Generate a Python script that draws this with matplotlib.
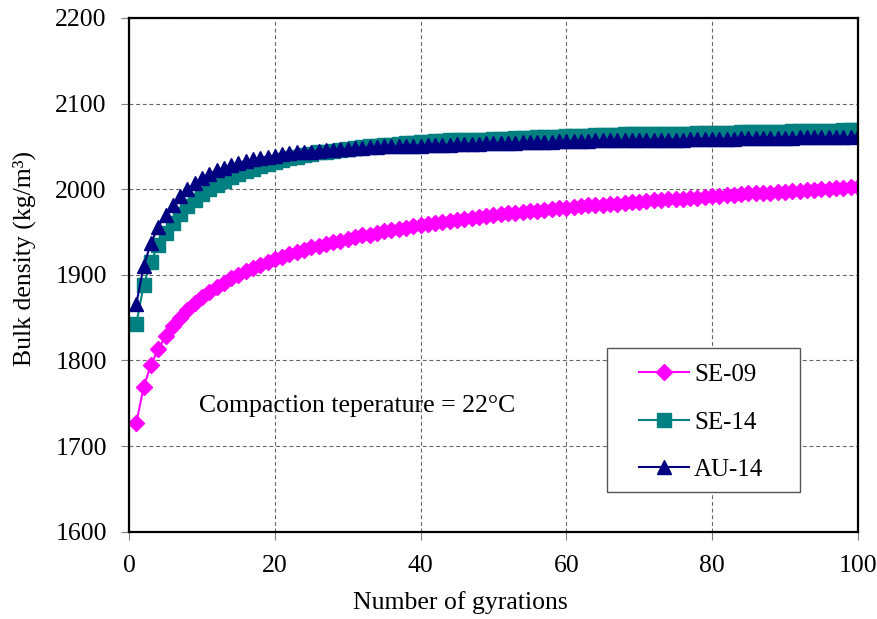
import numpy as np
import matplotlib.pyplot as plt
from matplotlib.patches import Rectangle

plt.rcParams['font.family'] = ['Liberation Serif', 'DejaVu Serif']

# gyration count 1..100
gyrations = np.arange(1, 101)

se09 = [1727, 1769, 1795, 1813, 1828, 1840, 1850, 1859, 1867, 1874,
        1880, 1886, 1891, 1896, 1900, 1904, 1908, 1912, 1915, 1918,
        1921, 1924, 1927, 1929, 1932, 1934, 1936, 1938, 1940, 1942,
        1944, 1946, 1947, 1949, 1951, 1952, 1954, 1955, 1957, 1958,
        1959, 1961, 1962, 1963, 1964, 1965, 1966, 1968, 1969, 1970,
        1971, 1972, 1972, 1973, 1974, 1975, 1976, 1977, 1978, 1978,
        1979, 1980, 1981, 1981, 1982, 1983, 1983, 1984, 1985, 1985,
        1986, 1987, 1987, 1988, 1988, 1989, 1990, 1990, 1991, 1992,
        1992, 1993, 1993, 1994, 1995, 1995, 1996, 1996, 1997, 1997,
        1998, 1998, 1999, 1999, 2000, 2000, 2001, 2001, 2002, 2003]

se14 = [1843, 1888, 1915, 1935, 1949, 1961, 1971, 1980, 1987, 1994,
        2000, 2005, 2010, 2014, 2018, 2021, 2024, 2027, 2030, 2032,
        2034, 2036, 2038, 2040, 2041, 2043, 2044, 2045, 2046, 2047,
        2048, 2049, 2050, 2051, 2052, 2052, 2053, 2054, 2054, 2055,
        2055, 2056, 2056, 2057, 2057, 2057, 2058, 2058, 2058, 2059,
        2059, 2059, 2060, 2060, 2060, 2061, 2061, 2061, 2061, 2062,
        2062, 2062, 2062, 2063, 2063, 2063, 2063, 2064, 2064, 2064,
        2064, 2064, 2065, 2065, 2065, 2065, 2065, 2066, 2066, 2066,
        2066, 2066, 2066, 2067, 2067, 2067, 2067, 2067, 2067, 2067,
        2068, 2068, 2068, 2068, 2068, 2068, 2068, 2069, 2069, 2069]

au14 = [1866, 1910, 1937, 1956, 1970, 1982, 1992, 2000, 2007, 2013,
        2018, 2022, 2025, 2028, 2031, 2033, 2035, 2037, 2038, 2039,
        2041, 2042, 2043, 2044, 2044, 2045, 2046, 2046, 2047, 2047,
        2048, 2048, 2049, 2049, 2050, 2050, 2050, 2051, 2051, 2051,
        2052, 2052, 2052, 2052, 2053, 2053, 2053, 2053, 2054, 2054,
        2054, 2054, 2054, 2055, 2055, 2055, 2055, 2055, 2056, 2056,
        2056, 2056, 2056, 2057, 2057, 2057, 2057, 2057, 2057, 2058,
        2058, 2058, 2058, 2058, 2058, 2058, 2059, 2059, 2059, 2059,
        2059, 2059, 2059, 2060, 2060, 2060, 2060, 2060, 2060, 2060,
        2060, 2061, 2061, 2061, 2061, 2061, 2061, 2061, 2061, 2062]

fig = plt.figure(figsize=(8.78, 6.19), dpi=100)
ax = fig.add_axes([0.147, 0.141, 0.830, 0.830])

ax.plot(gyrations, se09, color='#FF00FF', marker='D', markersize=8.5, lw=1.5, label='SE-09')
ax.plot(gyrations, se14, color='#008080', marker='s', markersize=10, lw=1.5, label='SE-14')
ax.plot(gyrations, au14, color='#000080', marker='^', markersize=10.5, lw=1.5, label='AU-14')

ax.set_xlim(0, 100)
ax.set_ylim(1600, 2200)
ax.set_xticks(np.arange(0, 101, 20))
ax.set_yticks(np.arange(1600, 2201, 100))
ax.grid(True, color='#666666', linestyle=(0, (3.5, 2.5)), linewidth=0.8)
ax.tick_params(labelsize=18.5, direction='out', length=6, width=0.8, color='#808080')
ax.tick_params(axis='y', pad=10)
ax.tick_params(axis='x', pad=11)
for s in ax.spines.values():
    s.set_linewidth(1.6)

ax.set_xlabel('Number of gyrations', fontsize=18.5)
ax.set_ylabel('Bulk density (kg/m³)', fontsize=18.5)
ax.xaxis.set_label_coords(0.454, -0.115)
ax.yaxis.set_label_coords(-0.128, 0.531)

ax.text(9.6, 1747, 'Compaction teperature = 22°C', fontsize=18.5, va='center')

# legend frame drawn as a plain box with white fill
ax.add_patch(Rectangle((0.656, 0.078), 0.264, 0.280, transform=ax.transAxes,
                       facecolor='white', edgecolor='#555555', lw=1.0, zorder=5))
leg = ax.legend(loc='upper left', bbox_to_anchor=(0.6996, 0.327), fontsize=18,
                frameon=False, borderpad=0, borderaxespad=0,
                labelspacing=1.0, handlelength=2.0, handletextpad=0.2)
leg.set_zorder(6)

fig.savefig('out.png', dpi=100)
